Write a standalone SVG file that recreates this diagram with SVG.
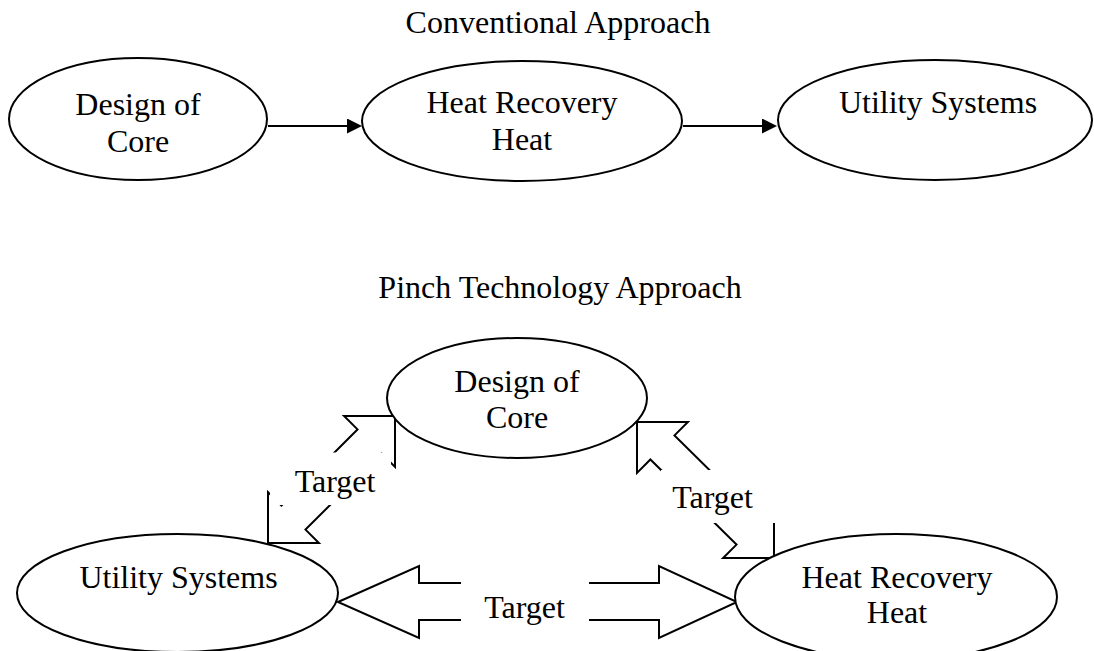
<svg xmlns="http://www.w3.org/2000/svg" width="1094" height="651" viewBox="0 0 1094 651">
<style>
text{font-family:"Liberation Serif","Times New Roman",serif;font-size:32px;fill:#000;text-anchor:middle}
.node{fill:#fff;stroke:#000;stroke-width:2}
.conn{fill:none;stroke:#000;stroke-width:2}
.block{fill:#fff;stroke:#000;stroke-width:2;stroke-linejoin:miter}
.mask{fill:#fff;stroke:none}
</style>
<defs>
<marker id="arrow" viewBox="0 0 15 15" refX="13" refY="7.5" markerWidth="15" markerHeight="15" markerUnits="userSpaceOnUse" orient="auto">
<path d="M0,0 L15,7.5 L0,15 z" fill="#000"/>
</marker>
</defs>
<rect x="0" y="0" width="1094" height="651" fill="#fff"/>
<text x="558" y="33">Conventional Approach</text>
<text x="560" y="298">Pinch Technology Approach</text>

<g id="connectors">
<line class="conn" x1="268" y1="126" x2="360" y2="126" marker-end="url(#arrow)"/>
<line class="conn" x1="683" y1="126" x2="775" y2="126" marker-end="url(#arrow)"/>
<g id="target-left">
<polygon class="block" points="395,416 395,466.9 381.6,453.5 305.5,529.6 318.9,543 268,543 268,492.1 281.4,505.5 357.5,429.4 344.1,416"/>
<rect class="mask" x="270" y="452.5" width="121" height="52.5"/>
<text x="335" y="492">Target</text>
</g>
<g id="target-right">
<polygon class="block" points="637,422 687.9,422 674.5,435.4 760.6,520.5 774,507.1 774,558 723.1,558 736.5,544.6 650.4,459.5 637,472.9"/>
<rect class="mask" x="661" y="470" width="116" height="53"/>
<text x="712.5" y="508">Target</text>
</g>
<g id="target-bottom">
<polygon class="block" points="338,602 419,566 419,583 659,583 659,566 737,602 659,638 659,620 419,620 419,638"/>
<rect class="mask" x="461" y="572" width="128" height="58"/>
<text x="524.5" y="618">Target</text>
</g>
</g>

<g id="conv-design">
<ellipse class="node" cx="138" cy="119" rx="129" ry="61"/>
<text x="138" y="115">Design of</text>
<text x="138" y="152">Core</text>
</g>
<g id="conv-heat">
<ellipse class="node" cx="522" cy="121" rx="160" ry="60"/>
<text x="522" y="113">Heat Recovery</text>
<text x="522" y="150">Heat</text>
</g>
<g id="conv-utility">
<ellipse class="node" cx="935" cy="120" rx="157" ry="60"/>
<text x="938" y="113">Utility Systems</text>
</g>

<g id="pinch-design">
<ellipse class="node" cx="517" cy="398" rx="130" ry="60"/>
<text x="517" y="392">Design of</text>
<text x="517" y="428">Core</text>
</g>
<g id="pinch-utility">
<ellipse class="node" cx="177.5" cy="593" rx="160.5" ry="59"/>
<text x="178.5" y="588">Utility Systems</text>
</g>
<g id="pinch-heat">
<ellipse class="node" cx="896" cy="597" rx="161" ry="63"/>
<text x="897" y="588">Heat Recovery</text>
<text x="897" y="623">Heat</text>
</g>
</svg>
